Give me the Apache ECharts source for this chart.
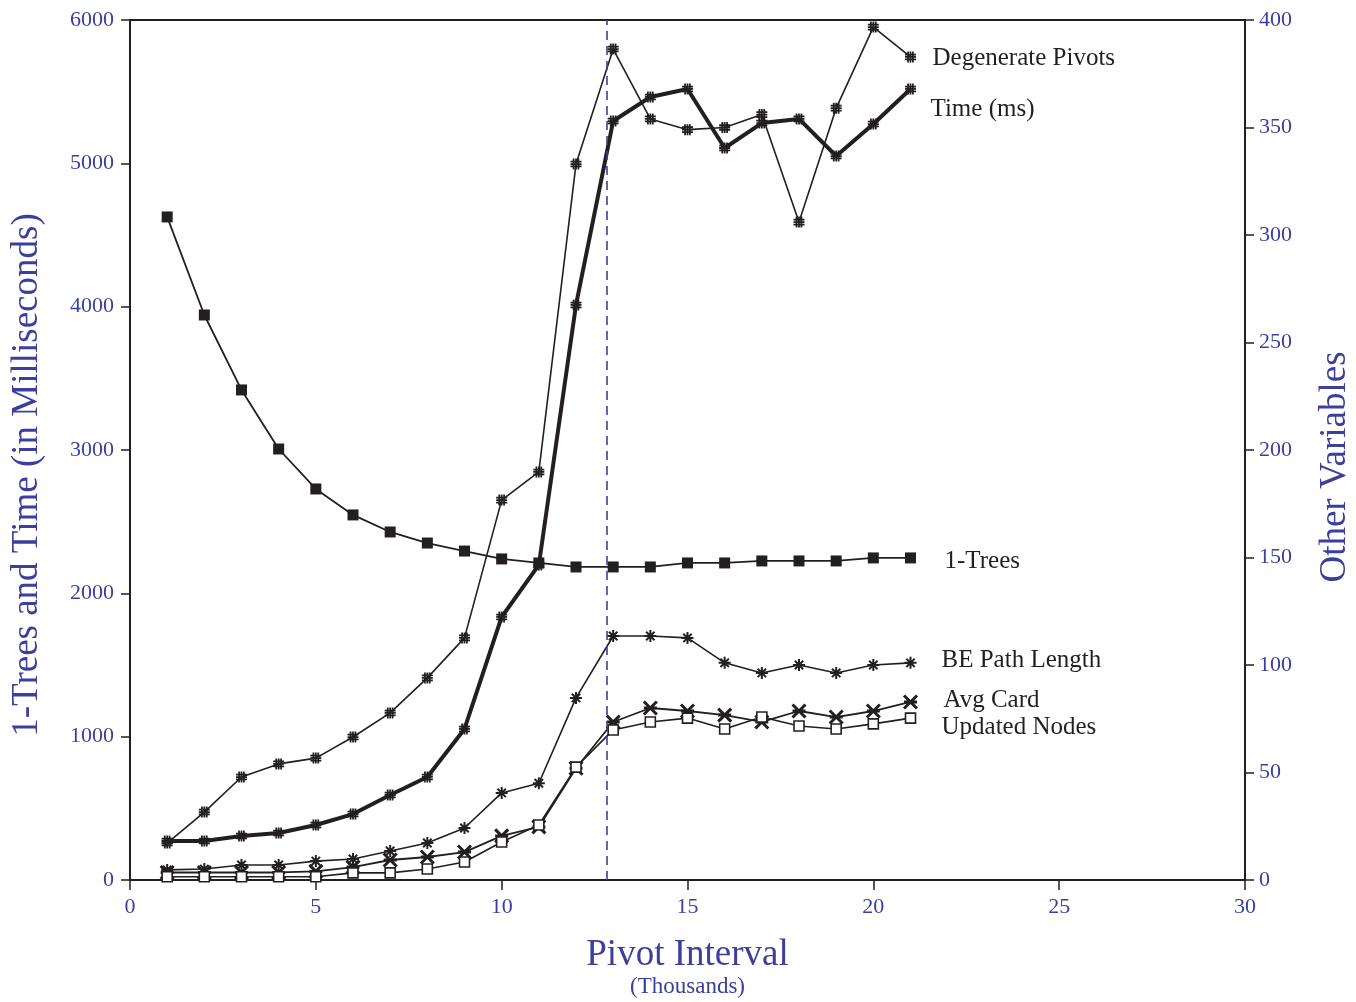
<!DOCTYPE html>
<html>
<head>
<meta charset="utf-8">
<script src="https://cdn.jsdelivr.net/npm/echarts@6/dist/echarts.min.js"></script>
<style>
  html, body { margin: 0; padding: 0; background: #fff; }
  #canvas { width: 1356px; height: 1002px; }
</style>
</head>
<body>
<div id="canvas"></div>
<script>
// pivot interval (thousands)
var pivotX = [1, 2, 3, 4, 5, 6, 7, 8, 9, 10, 11, 12, 13, 14, 15, 16, 17, 18, 19, 20, 21];
// left axis
var timeMs = [272, 272, 307, 328, 384, 460, 593, 719, 1054, 1835, 2198, 4012, 5295, 5463, 5519, 5107, 5281, 5310, 5051, 5274, 5519];
var oneTrees = [4626, 3942, 3419, 3007, 2728, 2547, 2428, 2351, 2295, 2240, 2212, 2184, 2184, 2184, 2212, 2212, 2226, 2226, 2226, 2247, 2247];
// right axis
var degenerate = [17.2, 31.6, 47.9, 54, 56.7, 66.5, 77.7, 94, 112.6, 176.7, 189.8, 333, 386.5, 354, 349, 350, 356, 306, 359, 396.7, 382.8];
var bePath = [4.7, 5.1, 7, 7, 8.8, 9.8, 13.5, 17.2, 24.2, 40.5, 45, 84.7, 113.5, 113.5, 112.6, 101, 96.3, 100, 96.3, 100, 101];
var avgCard = [3.5, 3.5, 3.5, 3.5, 4, 6, 9.3, 10.7, 13, 20.5, 24.7, 52, 73.5, 80, 78.6, 76.7, 73.5, 78.6, 75.8, 78.6, 82.8];
var updated = [1.5, 1.5, 1.5, 1.5, 1.5, 3.3, 3.3, 5.1, 8.4, 17.7, 25.6, 52.5, 69.8, 73.5, 75.3, 70.2, 75.8, 71.6, 70.2, 72.6, 75.3];
var optimalPivot = 12.83;

var BLUE = '#3b3f9e';
var INK = '#231f20';
var SERIF = '"Liberation Serif", "DejaVu Serif", serif';

var pairs = function(ys) {
    return pivotX.map(function(x, i) { return [x, ys[i]]; });
};
var plain = function(v) { return String(v); };

var hashSym = 'path://M2,0h1.6v10h-1.6z M6.4,0h1.6v10h-1.6z M0,2h10v1.6h-10z M0,6.4h10v1.6h-10z M4.2,0h1.6v10h-1.6z M0,4.2h10v1.6h-10z';
var starSym = 'path://M5,0L5,10M0,5L10,5M1.5,1.5L8.5,8.5M1.5,8.5L8.5,1.5';
var crossSym = 'path://M0,0L10,10M0,10L10,0M0,5L10,5';

var endLbl = function(text, off) {
    return {
        show: true, formatter: text, distance: 0, offset: off,
        color: INK, fontFamily: SERIF, fontSize: 25
    };
};

var myChart = echarts.init(document.getElementById('canvas'));
var option = {
    animation: false,
    grid: {
        left: 130, right: 111, top: 20, bottom: 122,
        outerBoundsMode: 'none', containLabel: false,
        show: true, borderColor: INK, borderWidth: 2
    },
    xAxis: {
        type: 'value', min: 0, max: 30, interval: 5,
        name: '{a|Pivot Interval}\n{b|(Thousands)}',
        nameLocation: 'middle', nameGap: 56,
        nameTextStyle: {
            color: BLUE, fontFamily: SERIF,
            rich: {
                a: { fontSize: 37, fontFamily: SERIF, color: BLUE, lineHeight: 38 },
                b: { fontSize: 23, fontFamily: SERIF, color: BLUE, lineHeight: 26 }
            }
        },
        axisLine: { lineStyle: { color: INK, width: 2 } },
        axisTick: { length: 10, lineStyle: { color: INK, width: 1.5 } },
        axisLabel: { color: BLUE, fontFamily: SERIF, fontSize: 22, margin: 16, formatter: plain },
        splitLine: { show: false }
    },
    yAxis: [{
        type: 'value', min: 0, max: 6000, interval: 1000,
        name: '1-Trees and Time (in Milliseconds)',
        nameLocation: 'middle', nameGap: 84,
        nameTextStyle: { color: BLUE, fontFamily: SERIF, fontSize: 37, padding: [0, 50, 0, 0] },
        axisLine: { show: true, lineStyle: { color: INK, width: 2 } },
        axisTick: { show: true, length: 9, lineStyle: { color: INK, width: 1.5 } },
        axisLabel: { color: BLUE, fontFamily: SERIF, fontSize: 22, margin: 16, formatter: plain },
        splitLine: { show: false }
    }, {
        type: 'value', min: 0, max: 400, interval: 50,
        name: 'Other Variables',
        nameLocation: 'middle', nameGap: 72,
        nameRotate: 90,
        nameTextStyle: { color: BLUE, fontFamily: SERIF, fontSize: 37, padding: [0, 34, 0, 0] },
        axisLine: { show: true, lineStyle: { color: INK, width: 2 } },
        axisTick: { show: true, length: 9, lineStyle: { color: INK, width: 1.5 } },
        axisLabel: { color: BLUE, fontFamily: SERIF, fontSize: 22, margin: 14, formatter: plain },
        splitLine: { show: false }
    }],
    series: [
        {
            name: '1-Trees', type: 'line', yAxisIndex: 0, data: pairs(oneTrees),
            symbol: 'rect', symbolSize: 11,
            itemStyle: { color: INK },
            lineStyle: { color: INK, width: 1.8 },
            endLabel: endLbl('1-Trees', [34, 4])
        },
        {
            name: 'Degenerate Pivots', type: 'line', yAxisIndex: 1, data: pairs(degenerate),
            symbol: hashSym, symbolSize: 11,
            itemStyle: { color: INK },
            lineStyle: { color: INK, width: 1.6 },
            endLabel: endLbl('Degenerate Pivots', [22, 1])
        },
        {
            name: 'Time (ms)', type: 'line', yAxisIndex: 0, data: pairs(timeMs),
            symbol: hashSym, symbolSize: 11,
            itemStyle: { color: INK },
            lineStyle: { color: INK, width: 4 },
            endLabel: endLbl('Time (ms)', [20, 20]),
            markLine: {
                silent: true, symbol: 'none',
                label: { show: false },
                lineStyle: { color: BLUE, type: [9, 6], width: 1.6 },
                data: [{ xAxis: optimalPivot }]
            }
        },
        {
            name: 'BE Path Length', type: 'line', yAxisIndex: 1, data: pairs(bePath),
            symbol: starSym, symbolSize: 12,
            itemStyle: { color: INK, borderColor: INK, borderWidth: 2 },
            lineStyle: { color: INK, width: 1.6 },
            endLabel: endLbl('BE Path Length', [31, -2])
        },
        {
            name: 'Avg Card', type: 'line', yAxisIndex: 1, data: pairs(avgCard),
            symbol: crossSym, symbolSize: 13,
            itemStyle: { color: INK, borderColor: INK, borderWidth: 3 },
            lineStyle: { color: INK, width: 1.8 },
            endLabel: endLbl('Avg Card', [33, -2])
        },
        {
            name: 'Updated Nodes', type: 'line', yAxisIndex: 1, data: pairs(updated),
            symbol: 'rect', symbolSize: 10,
            itemStyle: { color: '#fff', borderColor: INK, borderWidth: 1.6 },
            lineStyle: { color: INK, width: 1.6 },
            endLabel: endLbl('Updated Nodes', [31, 9])
        }
    ]
};
myChart.setOption(option);
</script>
</body>
</html>
